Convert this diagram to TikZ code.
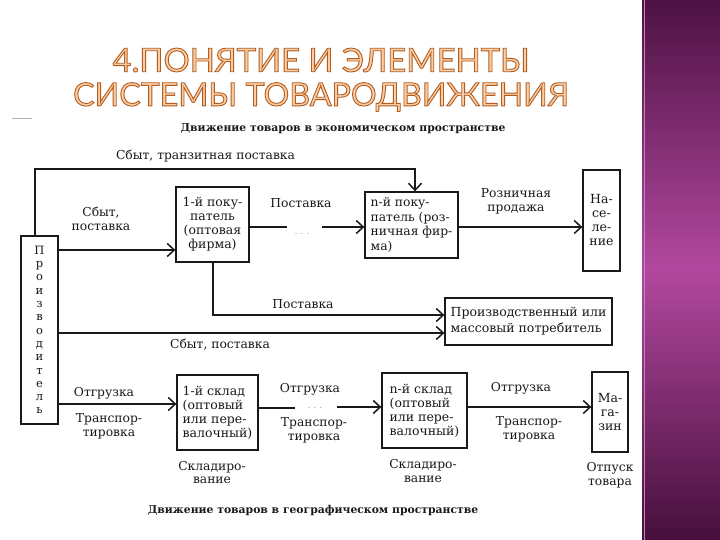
\documentclass[tikz,border=0pt]{standalone}
\usepackage{fontspec}
\usetikzlibrary{arrows.meta}
\setmainfont{DejaVu Serif}
\newfontfamily\titlefont{Lato}
\newfontfamily\diafont{DejaVu Serif}
\newcommand\outlinetext[1]{\special{pdf:literal direct q 2 Tr 0.9 w 0.70 0.36 0.12 RG}#1\special{pdf:literal direct Q}}
\definecolor{tfill}{RGB}{250,205,165}
\definecolor{bandtop}{RGB}{78,18,68}
\definecolor{bandmid}{RGB}{178,72,158}
\definecolor{bandbot}{RGB}{70,15,60}
\definecolor{ink}{RGB}{25,25,25}
\begin{document}
\begin{tikzpicture}[x=1pt,y=-1pt,
  box/.style={draw=ink, line width=1.3pt, inner sep=0pt, text=ink,
    font=\diafont\fontsize{12.5}{14}\selectfont},
  lbl/.style={inner sep=0pt, text=ink, align=center,
    font=\diafont\fontsize{12.3}{13.8}\selectfont},
  sub/.style={inner sep=0pt, text=ink, font=\diafont\bfseries\fontsize{10.8}{12}\selectfont},
  dots/.style={inner sep=0pt, text=gray, font=\diafont\fontsize{8}{8}\selectfont},
  ln/.style={draw=ink, line width=1.8pt},
  arr/.style={draw=ink, line width=1.8pt, -{Straight Barb[length=7pt,width=13pt,line width=1.5pt]}},
  ttl/.style={inner sep=0pt, text=tfill, font=\titlefont\fontsize{32.8}{33}\selectfont}]
\useasboundingbox (0,0) rectangle (720,540);
\fill[white] (0,0) rectangle (720,540);
\shade[top color=bandtop, bottom color=bandbot, middle color=bandmid] (642,0) rectangle (720,540);
\draw[color=bandmid!70!white, line width=1pt] (644,0) -- (644,540);
\draw[gray!60, line width=1pt] (12,119) -- (32,119);

% title
\node[ttl] (t1) at (321,60) {\outlinetext{4.ПОНЯТИЕ И ЭЛЕМЕНТЫ}};
\node[ttl, font=\titlefont\fontsize{32.2}{33}\selectfont] (t2) at (321,97) {\outlinetext{СИСТЕМЫ ТОВАРОДВИЖЕНИЯ}};

% subtitles
\node[sub] (s1) at (343,129) {Движение товаров в экономическом пространстве};
\node[sub] (s2) at (313,511) {Движение товаров в географическом пространстве};

% boxes
\node[box, minimum width=37pt, minimum height=188pt, align=center,
  font=\diafont\fontsize{11.5}{13.3}\selectfont] (prod) at (39.5,330)
  {П\\р\\о\\и\\з\\в\\о\\д\\и\\т\\е\\л\\ь};
\node[box, minimum width=73pt, minimum height=75pt, align=center] (b1) at (212.5,224.5)
  {1-й поку-\\патель\\(оптовая\\фирма)};
\node[box, minimum width=93pt, minimum height=66pt, align=left,
  font=\diafont\fontsize{12.3}{14.5}\selectfont] (bn) at (411.5,225)
  {n-й поку-\\патель (роз-\\ничная фир-\\ма)};
\node[box, minimum width=37pt, minimum height=101pt, align=center] (nas) at (601.5,220.5)
  {На-\\се-\\ле-\\ние};
\node[box, minimum width=167pt, minimum height=47pt, align=left,
  font=\diafont\fontsize{12.5}{16}\selectfont] (cons) at (528.5,321.5)
  {Производственный или\\массовый потребитель};
\node[box, minimum width=81pt, minimum height=75pt, align=left] (s1b) at (217.5,412.5)
  {1-й склад\\(оптовый\\или пере-\\валочный)};
\node[box, minimum width=85pt, minimum height=75pt, align=left] (snb) at (424.5,410.5)
  {n-й склад\\(оптовый\\или пере-\\валочный)};
\node[box, minimum width=36pt, minimum height=80pt, align=center] (mag) at (610,412)
  {Ма-\\га-\\зин};

% labels
\node[lbl] (l1) at (205.5,156) {Сбыт, транзитная поставка};
\node[lbl] (l2) at (101,218.5) {Сбыт,\\поставка};
\node[lbl] (l3) at (301,203) {Поставка};
\node[lbl] (l4) at (516,201.5) {Розничная\\продажа};
\node[lbl] (l5) at (303,304) {Поставка};
\node[lbl] (l6) at (220,345) {Сбыт, поставка};
\node[lbl] (l7) at (104,393) {Отгрузка};
\node[lbl] (l8) at (109,426.5) {Транспор-\\тировка};
\node[lbl] (l9) at (310,389) {Отгрузка};
\node[lbl] (l10) at (314,430.5) {Транспор-\\тировка};
\node[lbl] (l11) at (521,388) {Отгрузка};
\node[lbl] (l12) at (529,429) {Транспор-\\тировка};
\node[lbl] (l13) at (212,472.5) {Складиро-\\вание};
\node[lbl] (l14) at (423,471) {Складиро-\\вание};
\node[lbl] (l15) at (610,475.5) {Отпуск\\товара};
\node[dots] (d1) at (302,234) {. . .};
\node[dots] (d2) at (315,408) {. . .};

% connectors
\coordinate (tl) at (35,169);
\coordinate (tr) at (415,169);
\draw[arr] (prod.north -| tl) -- (tl) -- (tr) -- (bn.north -| tr);
\draw[arr] (prod.east |- 0,250) -- (b1.west |- 0,250);
\coordinate (m1) at (287,227);
\coordinate (m2) at (322,227);
\draw[ln] (b1.east |- m1) -- (m1);
\draw[arr] (m2) -- (bn.west |- m2);
\draw[arr] (bn.east |- 0,227) -- (nas.west |- 0,227);
\coordinate (c1) at (213,315);
\draw[arr] (b1.south -| c1) -- (c1) -- (cons.west |- c1);
\draw[arr] (prod.east |- 0,333) -- (cons.west |- 0,333);
\draw[arr] (prod.east |- 0,404) -- (s1b.west |- 0,404);
\coordinate (m3) at (295,408);
\coordinate (m4) at (337,407);
\draw[ln] (s1b.east |- m3) -- (m3);
\draw[arr] (m4) -- (snb.west |- m4);
\draw[arr] (snb.east |- 0,407) -- (mag.west |- 0,407);
\end{tikzpicture}
\end{document}
